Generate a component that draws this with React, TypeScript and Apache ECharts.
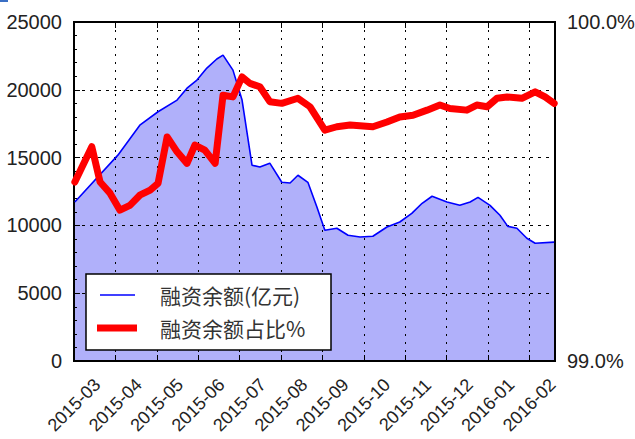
import React, { useEffect, useRef } from "react";
import * as echarts from "echarts";

// x positions are in months since 2015-03 (0 = 2015-03, 1 = 2015-04, ...)
const monthLabels = [
  "2015-03", "2015-04", "2015-05", "2015-06", "2015-07", "2015-08",
  "2015-09", "2015-10", "2015-11", "2015-12", "2016-01", "2016-02",
];

const balanceX = [
  0.02, 1.06, 1.59, 2.03, 2.49, 2.73, 2.97, 3.21, 3.45, 3.6, 3.84, 4.06, 4.3, 4.49,
  4.73, 5.02, 5.22, 5.41, 5.65, 5.87, 6.06, 6.35, 6.62, 6.91, 7.22, 7.56, 7.87, 8.16,
  8.41, 8.65, 9.01, 9.32, 9.57, 9.76, 10.05, 10.29, 10.48, 10.7, 10.94, 11.14, 11.6,
];
const balanceValues = [
  11730, 15180, 17390, 18380, 19240, 20120, 20720, 21600, 22270, 22560, 21450, 19240,
  14440, 14310, 14590, 13180, 13130, 13700, 13180, 11340, 9640, 9790, 9270, 9140, 9200,
  9880, 10250, 10890, 11630, 12150, 11730, 11480, 11730, 12070, 11480, 10750, 9930, 9790,
  9050, 8680, 8770,
];

const ratioX = [
  0.02, 0.43, 0.63, 0.87, 1.11, 1.35, 1.59, 1.84, 2.03, 2.25, 2.49, 2.73, 2.92, 3.16,
  3.41, 3.6, 3.84, 4.06, 4.25, 4.49, 4.73, 5.02, 5.41, 5.7, 6.06, 6.35, 6.67, 7.22, 7.56,
  7.87, 8.19, 8.53, 8.84, 9.08, 9.49, 9.73, 9.98, 10.22, 10.46, 10.82, 11.14, 11.38, 11.6,
];
const ratioValues = [
  99.528, 99.632, 99.528, 99.495, 99.445, 99.459, 99.489, 99.504, 99.524, 99.661, 99.617,
  99.583, 99.637, 99.622, 99.583, 99.784, 99.779, 99.838, 99.819, 99.809, 99.765, 99.76,
  99.775, 99.75, 99.681, 99.691, 99.696, 99.691, 99.705, 99.72, 99.725, 99.74, 99.755,
  99.745, 99.74, 99.755, 99.75, 99.775, 99.779, 99.775, 99.794, 99.779, 99.76,
];

const leftTicks = { min: 0, max: 25000, interval: 5000 };
const rightTicks = { min: 99, max: 100, interval: 1 };

const seriesNames = ["融资余额(亿元)", "融资余额占比%"];

const numFont = "'Liberation Sans', Arial, sans-serif";
const cjkFont = "'Noto Sans CJK SC', 'Noto Sans', sans-serif";

export default function App() {
  const ref = useRef<HTMLDivElement>(null);

  useEffect(() => {
    if (!ref.current) return;
    const chart = echarts.init(ref.current, undefined, { renderer: "svg" });
    const balanceData = balanceX.map((x, i) => [x, balanceValues[i]]);
    const ratioData = ratioX.map((x, i) => [x, ratioValues[i]]);
    const xMax = 11.62;

    const gridStyle = { color: "#000", type: [3, 5] as any, width: 1 };

    chart.setOption({
      animation: false,
      backgroundColor: "#fff",
      grid: {
        left: 74, right: 80, top: 22, bottom: 78,
        containLabel: false,
        outerBoundsMode: "none",
        show: true, borderColor: "#000", borderWidth: 2, backgroundColor: "transparent",
      },
      xAxis: [
        {
          type: "value",
          position: "bottom",
          min: 0,
          max: xMax,
          interval: 1,
          z: 1,
          axisLine: { show: true, onZero: false, lineStyle: { color: "#000", width: 2 } },
          axisTick: { show: true, inside: true, length: 6, lineStyle: { color: "#000", width: 1 } },
          splitLine: { show: true, lineStyle: { color: "#000", type: [2, 6], width: 1 } },
          axisLabel: {
            rotate: 45,
            align: "center",
            verticalAlign: "middle",
            margin: 44,
            fontFamily: numFont,
            fontSize: 18,
            color: "#222",
            showMaxLabel: false,
            formatter: (v: number) => {
              const i = Math.round(v);
              return Math.abs(v - i) < 1e-6 && monthLabels[i] ? monthLabels[i] : "";
            },
          },
        },
        {
          type: "value",
          position: "top",
          min: 0,
          max: xMax,
          interval: 1,
          z: 1,
          axisLine: { show: true, onZero: false, lineStyle: { color: "#000", width: 2 } },
          axisTick: { show: true, inside: true, length: 6, lineStyle: { color: "#000", width: 1 } },
          splitLine: { show: false },
          axisLabel: { show: false },
        },
      ],
      yAxis: [
        {
          type: "value",
          position: "left",
          ...leftTicks,
          z: 1,
          axisLine: { show: true, onZero: false, lineStyle: { color: "#000", width: 2 } },
          axisTick: { show: true, inside: true, length: 6, lineStyle: { color: "#000" } },
          minorTick: { show: true, splitNumber: 5, length: 3, lineStyle: { color: "#000" } },
          splitLine: { show: true, lineStyle: gridStyle },
          axisLabel: {
            fontFamily: numFont, fontSize: 20, color: "#222", margin: 12,
            formatter: (v: number) => String(v),
          },
        },
        {
          type: "value",
          position: "right",
          ...rightTicks,
          z: 1,
          axisLine: { show: true, onZero: false, lineStyle: { color: "#000", width: 2 } },
          axisTick: { show: true, inside: true, length: 6, lineStyle: { color: "#000" } },
          splitLine: { show: false },
          axisLabel: {
            fontFamily: numFont,
            fontSize: 20,
            color: "#222",
            margin: 12,
            formatter: (v: number) => v.toFixed(1) + "%",
          },
        },
      ],
      series: [
        {
          name: seriesNames[0] + "-fill",
          type: "line",
          xAxisIndex: 0,
          yAxisIndex: 0,
          data: balanceData,
          showSymbol: false,
          z: -1,
          lineStyle: { width: 0, color: "#b0b0fa" },
          areaStyle: { color: "#b0b0fa", opacity: 1 },
        },
        {
          name: seriesNames[0],
          type: "line",
          xAxisIndex: 0,
          yAxisIndex: 0,
          data: balanceData,
          showSymbol: false,
          z: 3,
          lineStyle: { width: 1.6, color: "#0000ff" },
        },
        {
          name: seriesNames[1],
          type: "line",
          xAxisIndex: 0,
          yAxisIndex: 1,
          data: ratioData,
          showSymbol: false,
          z: 4,
          lineStyle: { width: 7, color: "#ff0000", join: "round", cap: "round" },
        },
        {
          name: "top-axis",
          type: "line",
          xAxisIndex: 1,
          yAxisIndex: 0,
          data: [],
          silent: true,
        },
      ],
      graphic: [
        { type: "rect", left: 0, top: 0, shape: { width: 8, height: 2 }, style: { fill: "#3a6fc4" } },
        {
          type: "rect",
          z: 100,
          shape: { x: 86, y: 274, width: 245, height: 76 },
          style: { fill: "#fff", stroke: "#000", lineWidth: 1.5 },
        },
        {
          type: "line",
          z: 101,
          shape: { x1: 100, y1: 295, x2: 135, y2: 295 },
          style: { stroke: "#0000ff", lineWidth: 1.6 },
        },
        {
          type: "line",
          z: 101,
          shape: { x1: 97, y1: 328, x2: 137, y2: 328 },
          style: { stroke: "#ff0000", lineWidth: 7 },
        },
        {
          type: "text",
          z: 101,
          x: 160,
          y: 295,
          style: {
            text: seriesNames[0],
            fontFamily: cjkFont,
            fontSize: 21,
            fill: "#333",
            verticalAlign: "middle",
          },
        },
        {
          type: "text",
          z: 101,
          x: 160,
          y: 328,
          style: {
            text: seriesNames[1],
            fontFamily: cjkFont,
            fontSize: 21,
            fill: "#333",
            verticalAlign: "middle",
          },
        },
      ],
    });
    return () => chart.dispose();
  }, []);

  return <div ref={ref} style={{ width: 635, height: 439, position: "absolute", left: 0, top: 0 }} />;
}
